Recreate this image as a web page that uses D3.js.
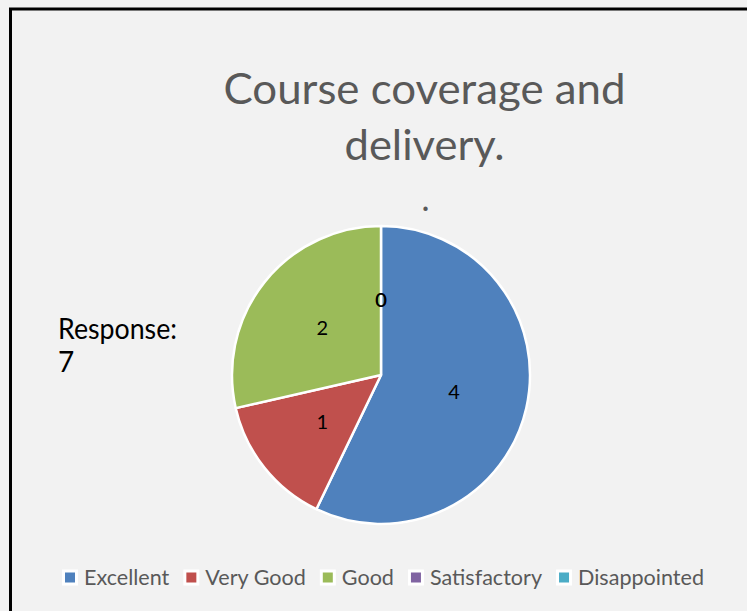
<!DOCTYPE html>
<html>
<head>
<meta charset="utf-8">
<script src="https://cdn.jsdelivr.net/npm/d3@7"></script>
<style>
  html, body { margin: 0; padding: 0; background: #f2f2f2; }
  svg { display: block; }
</style>
</head>
<body>
<svg id="chart" width="747" height="611"></svg>
<script>
// ---- data ----
const categories = ["Excellent", "Very Good", "Good", "Satisfactory", "Disappointed"];
const values = [4, 1, 2, 0, 0];
const colors = ["#4F81BD", "#C0504D", "#9BBB59", "#8064A2", "#4BACC6"];
const titleLines = ["Course coverage and", "delivery."];
const subtitleDot = ".";
const responseLines = ["Response:", "7"];

// ---- layout ----
const W = 747, H = 611;
const FONT = "Lato, 'Open Sans', sans-serif";
const svg = d3.select("#chart");

svg.append("rect").attr("width", W).attr("height", H).attr("fill", "#f2f2f2");
// chart border (extends beyond window on right/bottom)
svg.append("rect")
  .attr("x", 10.5).attr("y", 9)
  .attr("width", W + 20).attr("height", H + 20)
  .attr("fill", "none").attr("stroke", "#000").attr("stroke-width", 3);

// helper to fit text to a target width
function fit(sel, target) {
  const n = sel.node().getComputedTextLength();
  sel.attr("textLength", target).attr("lengthAdjust", "spacingAndGlyphs");
  return n;
}

// title
const titleX = 424.5;
const titleBase = [104, 160];
const titleWidths = [402, 160];
titleLines.forEach((t, i) => {
  const tx = svg.append("text")
    .attr("x", titleX).attr("y", titleBase[i])
    .attr("text-anchor", "middle")
    .attr("font-family", FONT).attr("font-size", 43)
    .attr("fill", "#595959").text(t);
  fit(tx, titleWidths[i]);
});
svg.append("text")
  .attr("x", 425.5).attr("y", 210.5)
  .attr("text-anchor", "middle")
  .attr("font-family", FONT).attr("font-size", 34)
  .attr("fill", "#595959").text(subtitleDot);

// Response text
const respBase = [339, 372];
responseLines.forEach((t, i) => {
  const tx = svg.append("text")
    .attr("x", 58).attr("y", respBase[i])
    .attr("font-family", FONT).attr("font-size", 28)
    .attr("fill", "#000").text(t);
  if (i === 0) fit(tx, 119);
});

// pie
const cx = 381, cy = 375, R = 149;
const pie = d3.pie().sort(null).value(d => d.v).startAngle(0).endAngle(2 * Math.PI);
const data = categories.map((c, i) => ({ c, v: values[i], col: colors[i] }));
const arcs = pie(data);
const arc = d3.arc().innerRadius(0).outerRadius(R);
const labelArc = d3.arc().innerRadius(75).outerRadius(75);

const g = svg.append("g").attr("transform", `translate(${cx},${cy})`);
g.selectAll("path.slice")
  .data(arcs.filter(a => a.data.v > 0))
  .join("path")
  .attr("class", "slice")
  .attr("d", arc)
  .attr("fill", d => d.data.col)
  .attr("stroke", "#fff")
  .attr("stroke-width", 2.5)
  .attr("stroke-linejoin", "round");

g.selectAll("text.lbl")
  .data(arcs)
  .join("text")
  .attr("class", "lbl")
  .attr("transform", d => `translate(${labelArc.centroid(d)})`)
  .attr("text-anchor", "middle")
  .attr("dy", "0.36em")
  .attr("font-family", FONT).attr("font-size", 20)
  .attr("fill", "#000")
  .text(d => d.data.v);

// legend
const legStart = 62, legEnd = 704, legY = 577.5;
const boxW = 16, boxGap = 6, itemGap = 14;
const leg = svg.append("g");
const texts = categories.map(c =>
  leg.append("text").attr("font-family", FONT).attr("font-size", 22)
    .attr("fill", "#595959").attr("dy", "0.35em").text(c));
const nat = texts.map(t => t.node().getComputedTextLength());
const avail = (legEnd - legStart) - categories.length * (boxW + boxGap) - (categories.length - 1) * itemGap;
const k = avail / d3.sum(nat);
let x = legStart;
categories.forEach((c, i) => {
  leg.append("rect").attr("x", x).attr("y", legY - boxW / 2)
    .attr("width", boxW).attr("height", boxW).attr("fill", "#fff");
  leg.append("rect").attr("x", x + 3).attr("y", legY - 5)
    .attr("width", 10).attr("height", 10).attr("fill", colors[i]);
  const tw = nat[i] * k;
  texts[i].attr("x", x + boxW + boxGap).attr("y", legY)
    .attr("textLength", tw).attr("lengthAdjust", "spacingAndGlyphs");
  x += boxW + boxGap + tw + itemGap;
});
</script>
</body>
</html>
